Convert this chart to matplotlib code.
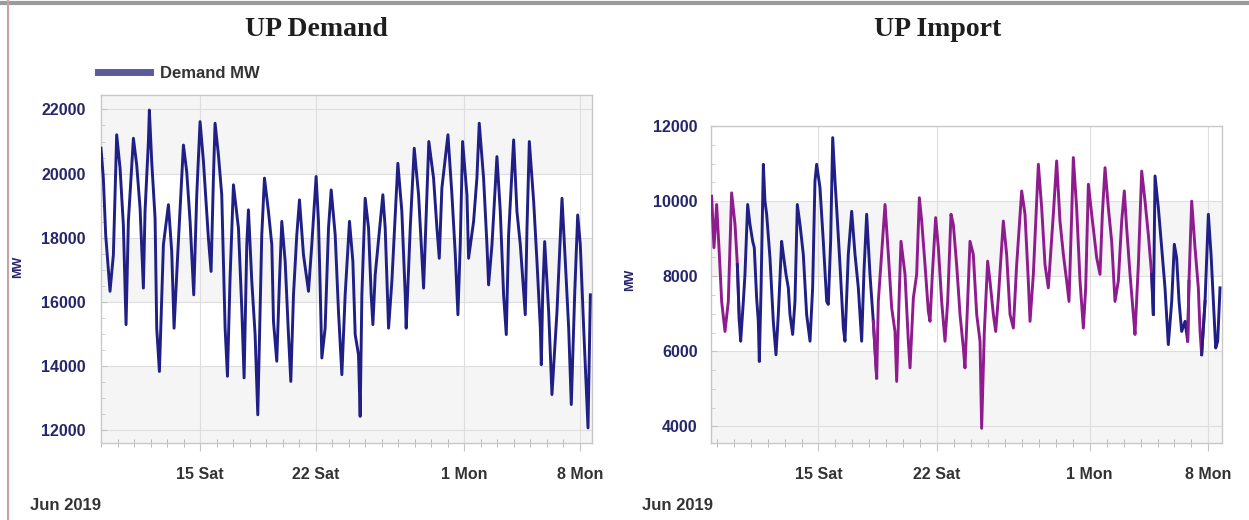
import matplotlib
matplotlib.use('Agg')
import matplotlib.pyplot as plt
import matplotlib.dates as mdates
from matplotlib.lines import Line2D
import numpy as np
import pandas as pd

# hours since 2019-06-09 00:00 and MW
start = pd.Timestamp('2019-06-09')

dem_hours = [0, 3.4, 6.8, 13.1, 18.0, 22.8, 27.7, 32.5, 36.4, 39.8, 47.1, 51.9, 56.8, 61.6,
             64.0, 68.9, 70.3, 73.7, 78.6, 81.0, 84.9, 90.7, 98.0, 102.8, 106.2, 111.5, 119.8,
             124.6, 129.5, 134.8, 139.2, 144.0, 148.9, 156.1, 160.0, 163.4, 165.8, 170.7, 175.5,
             180.4, 183.8, 187.6, 192.5, 199.8, 204.6, 208.0, 211.9, 214.3, 219.2, 224.0, 227.9,
             231.3, 233.7, 237.6, 243.4, 248.3, 250.7, 255.5, 259.4, 262.8, 267.7, 272.5, 275.9,
             279.8, 284.6, 288.5, 294.3, 301.6, 306.4, 312.7, 316.1, 318.6, 321.0, 325.8, 330.7,
             334.6, 340.4, 345.2, 350.1, 354.9, 361.2, 366.1, 369.5, 374.3, 376.7, 379.2, 384.0,
             388.9, 392.7, 395.2, 398.6, 409.7, 413.1, 418.0, 422.8, 431.5, 437.3, 442.2, 443.6,
             449.5, 455.3, 461.6, 468.9, 476.5, 483.4, 488.3, 491.7, 495.5, 504.3, 510.1, 515.0,
             518.8, 522.2, 525.6, 531.9, 534.3, 541.6, 546.4, 549.8, 556.1, 561.0, 563.4, 568.3,
             575.5, 580.4, 585.2, 589.1, 592.5, 599.8, 604.6, 609.5, 616.7, 619.2, 622.6, 628.9,
             633.7, 638.6, 640.0, 642.0, 644.9, 650.7, 655.5, 662.8, 670.1, 674.9, 679.8, 683.6,
             688.5, 692.9, 696.7, 701.6, 707.9, 711.3]
dem_mw = [20790, 19860, 18090, 16330, 17470, 21210, 20170, 18400, 15290, 18510, 21100, 20270,
          18920, 16430, 18820, 21000, 21980, 20380, 18610, 15180, 13830, 17780, 19030, 17570,
          15180, 17470, 20890, 20060, 18510, 16220, 19340, 21620, 20380, 17990, 16950, 19860,
          21570, 20580, 19340, 15180, 13680, 16740, 19650, 18300, 15810, 13630, 17780, 18870,
          16640, 14980, 12480, 15700, 18090, 19860, 18820, 17780, 15390, 14150, 16640, 18510,
          17260, 14980, 13520, 16220, 18090, 19180, 17470, 16330, 17780, 19910, 18510, 16430,
          14250, 15180, 18300, 19490, 18090, 15700, 13730, 16220, 18510, 17260, 14980, 14350,
          12430, 16220, 19230, 18300, 16220, 15290, 16850, 19340, 18300, 15180, 16640, 20320,
          18820, 16220, 15180, 18300, 20790, 19340, 16430, 21000, 19860, 18300, 17360, 19550,
          21210, 19340, 17470, 15600, 17780, 21000, 19340, 17360, 18510, 19860, 21570, 19860,
          17780, 16530, 17780, 20530, 18820, 16220, 14980, 18090, 21050, 18820, 17780, 15600,
          18300, 21000, 19130, 17260, 15180, 14040, 16220, 17880, 15700, 13110, 15700, 19230,
          17260, 15180, 12800, 16220, 18710, 17780, 15180, 12070, 16220]

imp_hours = [-7.3, -4.0, -0.2, 3.6, 6.9, 11.6, 16.3, 21.0, 25.8, 29.1, 31.9, 33.8, 37.6, 39.9,
             43.7, 47.0, 50.8, 53.1, 56.4, 58.8, 60.2, 62.6, 65.9, 68.2, 70.6, 75.3, 80.0, 83.8,
             87.1, 91.8, 94.2, 98.0, 101.3, 103.6, 107.4, 110.7, 114.0, 117.8, 122.5, 127.2,
             132.0, 135.7, 139.0, 141.4, 146.1, 150.8, 155.6, 157.9, 161.2, 164.1, 167.4, 169.7,
             174.4, 179.2, 181.5, 186.2, 191.0, 195.7, 200.4, 205.1, 208.4, 212.2, 216.9, 221.6,
             226.4, 228.7, 238.2, 242.9, 247.6, 252.3, 254.7, 258.0, 260.8, 266.5, 271.2, 273.6,
             278.3, 283.0, 286.8, 290.1, 294.8, 299.5, 301.9, 305.2, 309.9, 313.7, 318.4, 323.1,
             326.9, 331.6, 334.9, 339.6, 344.4, 349.1, 351.4, 355.2, 358.5, 363.2, 368.0, 372.7,
             375.0, 378.8, 383.5, 386.8, 391.6, 394.9, 398.6, 405.7, 410.4, 415.2, 419.9, 424.6,
             431.7, 436.4, 441.1, 443.5, 448.2, 455.3, 460.0, 464.7, 469.4, 476.5, 481.2, 485.9,
             490.7, 495.4, 498.7, 502.5, 504.8, 509.5, 514.3, 519.0, 522.3, 526.1, 530.8, 537.9,
             542.6, 545.9, 549.7, 554.4, 559.1, 563.8, 568.5, 573.3, 577.0, 580.3, 585.1, 589.8,
             592.1, 596.9, 601.6, 606.3, 611.0, 615.7, 618.1, 620.5, 625.2, 629.9, 634.6, 639.3,
             644.1, 647.8, 651.1, 654.5, 658.2, 663.0, 666.7, 668.6, 672.4, 677.1, 681.8, 684.2,
             686.5, 691.3, 696.0, 699.8, 703.1, 706.4, 709.2, 712.5]
imp_mw = [10130, 8760, 9910, 8580, 7330, 6530, 7330, 10220, 9380, 8310, 6800, 6270, 7330, 8050,
          9910, 9380, 8930, 8760, 7420, 6800, 5730, 7600, 10980, 10000, 9650, 8490, 6800, 5910,
          6980, 8930, 8580, 8050, 7690, 6980, 6450, 7330, 9910, 9380, 8580, 6980, 6270, 7690,
          10530, 10980, 10360, 8930, 7330, 7250, 8930, 11690, 10530, 9820, 8310, 6620, 6270,
          8580, 9730, 8580, 7690, 6270, 8130, 9650, 8050, 6800, 5290, 7330, 9910, 8580, 7160,
          6530, 5200, 7330, 8930, 8050, 6270, 5560, 7420, 8050, 10090, 9470, 8310, 7070, 6800,
          8050, 9560, 8760, 7330, 6270, 7330, 9650, 9380, 8310, 6980, 6090, 5560, 7330, 8930,
          8580, 6980, 6270, 3950, 6530, 8400, 7870, 6980, 6530, 7420, 9470, 8580, 6980, 6620,
          8310, 10270, 9650, 7870, 6800, 8050, 10980, 9820, 8310, 7690, 9650, 11070, 9470, 8580,
          7870, 7330, 9650, 11160, 9820, 7870, 6620, 7690, 10450, 9650, 8490, 8050, 9650, 10890,
          9820, 8930, 7330, 7870, 9470, 10270, 9290, 8050, 6980, 6450, 8310, 10800, 10000, 9110,
          8050, 6980, 10670, 9820, 8760, 7690, 6180, 7330, 8850, 8490, 7330, 6530, 6800, 6270,
          7870, 10000, 8760, 7690, 6530, 5910, 7330, 9650, 8580, 7330, 6090, 6270, 7690]

# colour of the import trace changes at these hours
imp_seg_start = [-8.2, 31, 222, 618, 668, 690]
imp_seg_kind = ['purple', 'navy', 'purple', 'navy', 'purple', 'navy']

week_ticks = ['2019-06-15', '2019-06-22', '2019-07-01', '2019-07-08']

NAVY = '#1f1f85'
PURPLE = '#8e1c8e'
LABEL = '#26266a'
TXT = '#333333'
SANS = 'Liberation Sans'


def to_dates(hours):
    return start + pd.to_timedelta(np.asarray(hours), unit='h')


def style_axes(ax, ylim, yticks, xlim_h, ypad):
    ax.set_xlim(to_dates(xlim_h)[0], to_dates(xlim_h)[1])
    ax.set_ylim(*ylim)
    # alternating bands
    edges = [ylim[0]] + list(yticks[1:-1]) + [ylim[1]]
    for i in range(len(edges) - 1):
        if i % 2 == 0:
            ax.axhspan(edges[i], edges[i + 1], color='#f5f5f5', zorder=0, lw=0)
    ax.set_yticks(yticks)
    ax.yaxis.set_minor_locator(matplotlib.ticker.MultipleLocator(500))
    ticks = pd.to_datetime(week_ticks)
    ax.set_xticks(mdates.date2num(ticks))
    ax.set_xticklabels([f"{d.day} {d:%a}" for d in ticks])
    ax.xaxis.set_minor_locator(mdates.DayLocator())
    ax.grid(True, which='major', color='#dedede', lw=0.8, zorder=1)
    for s in ax.spines.values():
        s.set_color('#c8c8c8')
        s.set_linewidth(1.0)
    ax.tick_params(axis='x', which='major', direction='out', length=6, color='#c4c4c4',
                   pad=11, labelcolor=TXT)
    ax.tick_params(axis='x', which='minor', direction='inout', length=6, color='#b0b0b0')
    ax.tick_params(axis='y', which='major', direction='in', length=4, color='#c4c4c4',
                   pad=ypad, labelcolor=LABEL)
    ax.tick_params(axis='y', which='minor', direction='in', length=3, color='#c8c8c8')
    for lab in ax.get_xticklabels() + ax.get_yticklabels():
        lab.set_fontfamily(SANS)
        lab.set_fontweight('bold')
        lab.set_fontsize(11.5)


fig = plt.figure(figsize=(12.49, 5.2), dpi=100)

# left: demand
ax1 = fig.add_axes([101 / 1249, 1 - 443 / 520, 491 / 1249, 348 / 520])
ax1.plot(to_dates(dem_hours), dem_mw, color=NAVY, lw=2.1, zorder=3)
style_axes(ax1, (11600, 22450), list(range(12000, 22001, 2000)), (0, 713.7), 11)
leg = ax1.legend(handles=[Line2D([], [], color='#5b5b9b', lw=5)], labels=['Demand MW'],
                 loc='center left', bbox_to_anchor=(-0.006, 1.063), frameon=False,
                 borderpad=0, borderaxespad=0, handlelength=3.1, handletextpad=0.6,
                 prop={'family': SANS, 'weight': 'bold', 'size': 12})
for t in leg.get_texts():
    t.set_color(TXT)

# right: import, coloured by segment
ax2 = fig.add_axes([711 / 1249, 1 - 443 / 520, 510.5 / 1249, 317 / 520])
ih = np.asarray(imp_hours)
iv = np.asarray(imp_mw)
bounds = imp_seg_start + [1e9]
for i, kind in enumerate(imp_seg_kind):
    lo = max(np.searchsorted(ih, bounds[i]) - 1, 0)
    hi = np.searchsorted(ih, bounds[i + 1])
    ax2.plot(to_dates(ih[lo:hi + 1]), iv[lo:hi + 1],
             color=PURPLE if kind == 'purple' else NAVY, lw=2.1, zorder=3)
style_axes(ax2, (3560, 12000), list(range(4000, 12001, 2000)), (-8.2, 714.6), 9.5)

# titles and other text
fig.text(316 / 1249, 1 - 30 / 520, 'UP Demand', ha='center', va='center',
         family='Liberation Serif', weight='bold', size=20, color='#1e1e1e')
fig.text(938 / 1249, 1 - 30 / 520, 'UP Import', ha='center', va='center',
         family='Liberation Serif', weight='bold', size=20, color='#1e1e1e')
for x, y in [(18, 267), (630, 280)]:
    fig.text(x / 1249, 1 - y / 520, 'MW', rotation=90, ha='center', va='center',
             family=SANS, weight='bold', size=9, color=LABEL)
for x in [30, 642]:
    fig.text(x / 1249, 1 - 505 / 520, 'Jun 2019', ha='left', va='center',
             family=SANS, weight='bold', size=12, color=TXT)

# border bits of the screenshot
fig.add_artist(Line2D([0, 1], [1 - 3 / 520, 1 - 3 / 520], color='#9a9a9a', lw=3))
fig.add_artist(Line2D([8 / 1249, 8 / 1249], [0, 1], color='#c9a3a3', lw=1.5))

fig.savefig('out.png', dpi=100)
